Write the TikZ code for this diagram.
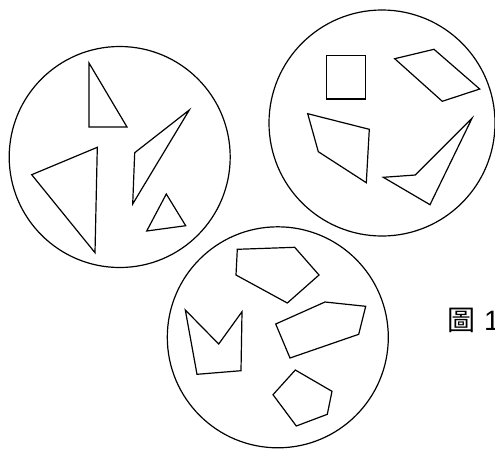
\documentclass[tikz,border=0pt]{standalone}
\usepackage{fontspec}
\newfontfamily\cjk{Noto Sans CJK TC}
\setsansfont{Liberation Sans}
\usepackage{tikz}

\begin{document}
\begin{tikzpicture}[x=1pt,y=-1pt,line width=1.2pt,line join=miter]
                \useasboundingbox (0,0) rectangle (495,448);
                % left circle: triangles
                \draw (119.7,157) circle (110.5);
                \draw (89,63) -- (89,127) -- (127,127) -- cycle;
                \draw (97.3,147.3) -- (31.7,174.7) -- (95,252.7) -- cycle;
                \draw (189.3,110) -- (134.7,152.7) -- (132.7,204) -- cycle;
                \draw (166.3,194) -- (146.7,231) -- (185.7,225.7) -- cycle;
                % right circle: quadrilaterals
                \draw (382,123) circle (113);
                \draw (326.7,55.7) rectangle (365.3,99);
                \draw (394.7,58.7) -- (434,49.3) -- (479.7,89) -- (442.3,101.3) -- cycle;
                \draw (307.7,113.7) -- (369.3,129.3) -- (366.3,182.7) -- (318.3,151.7) -- cycle;
                \draw (472,118.3) -- (430,204.7) -- (383.3,177.3) -- (415.3,175) -- cycle;
                % bottom circle: pentagons
                \draw (277.8,337.3) circle (110.5);
                \draw (237.3,249.3) -- (294.7,247.3) -- (319,275) -- (287.3,303) -- (236,275) -- cycle;
                \draw (185.3,310) -- (218.7,344) -- (242,311.7) -- (241,370.7) -- (197,374.3) -- cycle;
                \draw (275.7,324) -- (325,302) -- (365.7,306.3) -- (358.7,334.3) -- (290,358) -- cycle;
                \draw (295.3,370) -- (332,391.3) -- (327.3,414.3) -- (296.3,426) -- (273,394.7) -- cycle;
                \node[anchor=west,inner sep=0pt,font=\fontsize{28}{28}\selectfont] (fig) at (447,320)
                {{\cjk 圖}\hspace{0.3em}\sffamily 1};
            \end{tikzpicture}
\end{document}
